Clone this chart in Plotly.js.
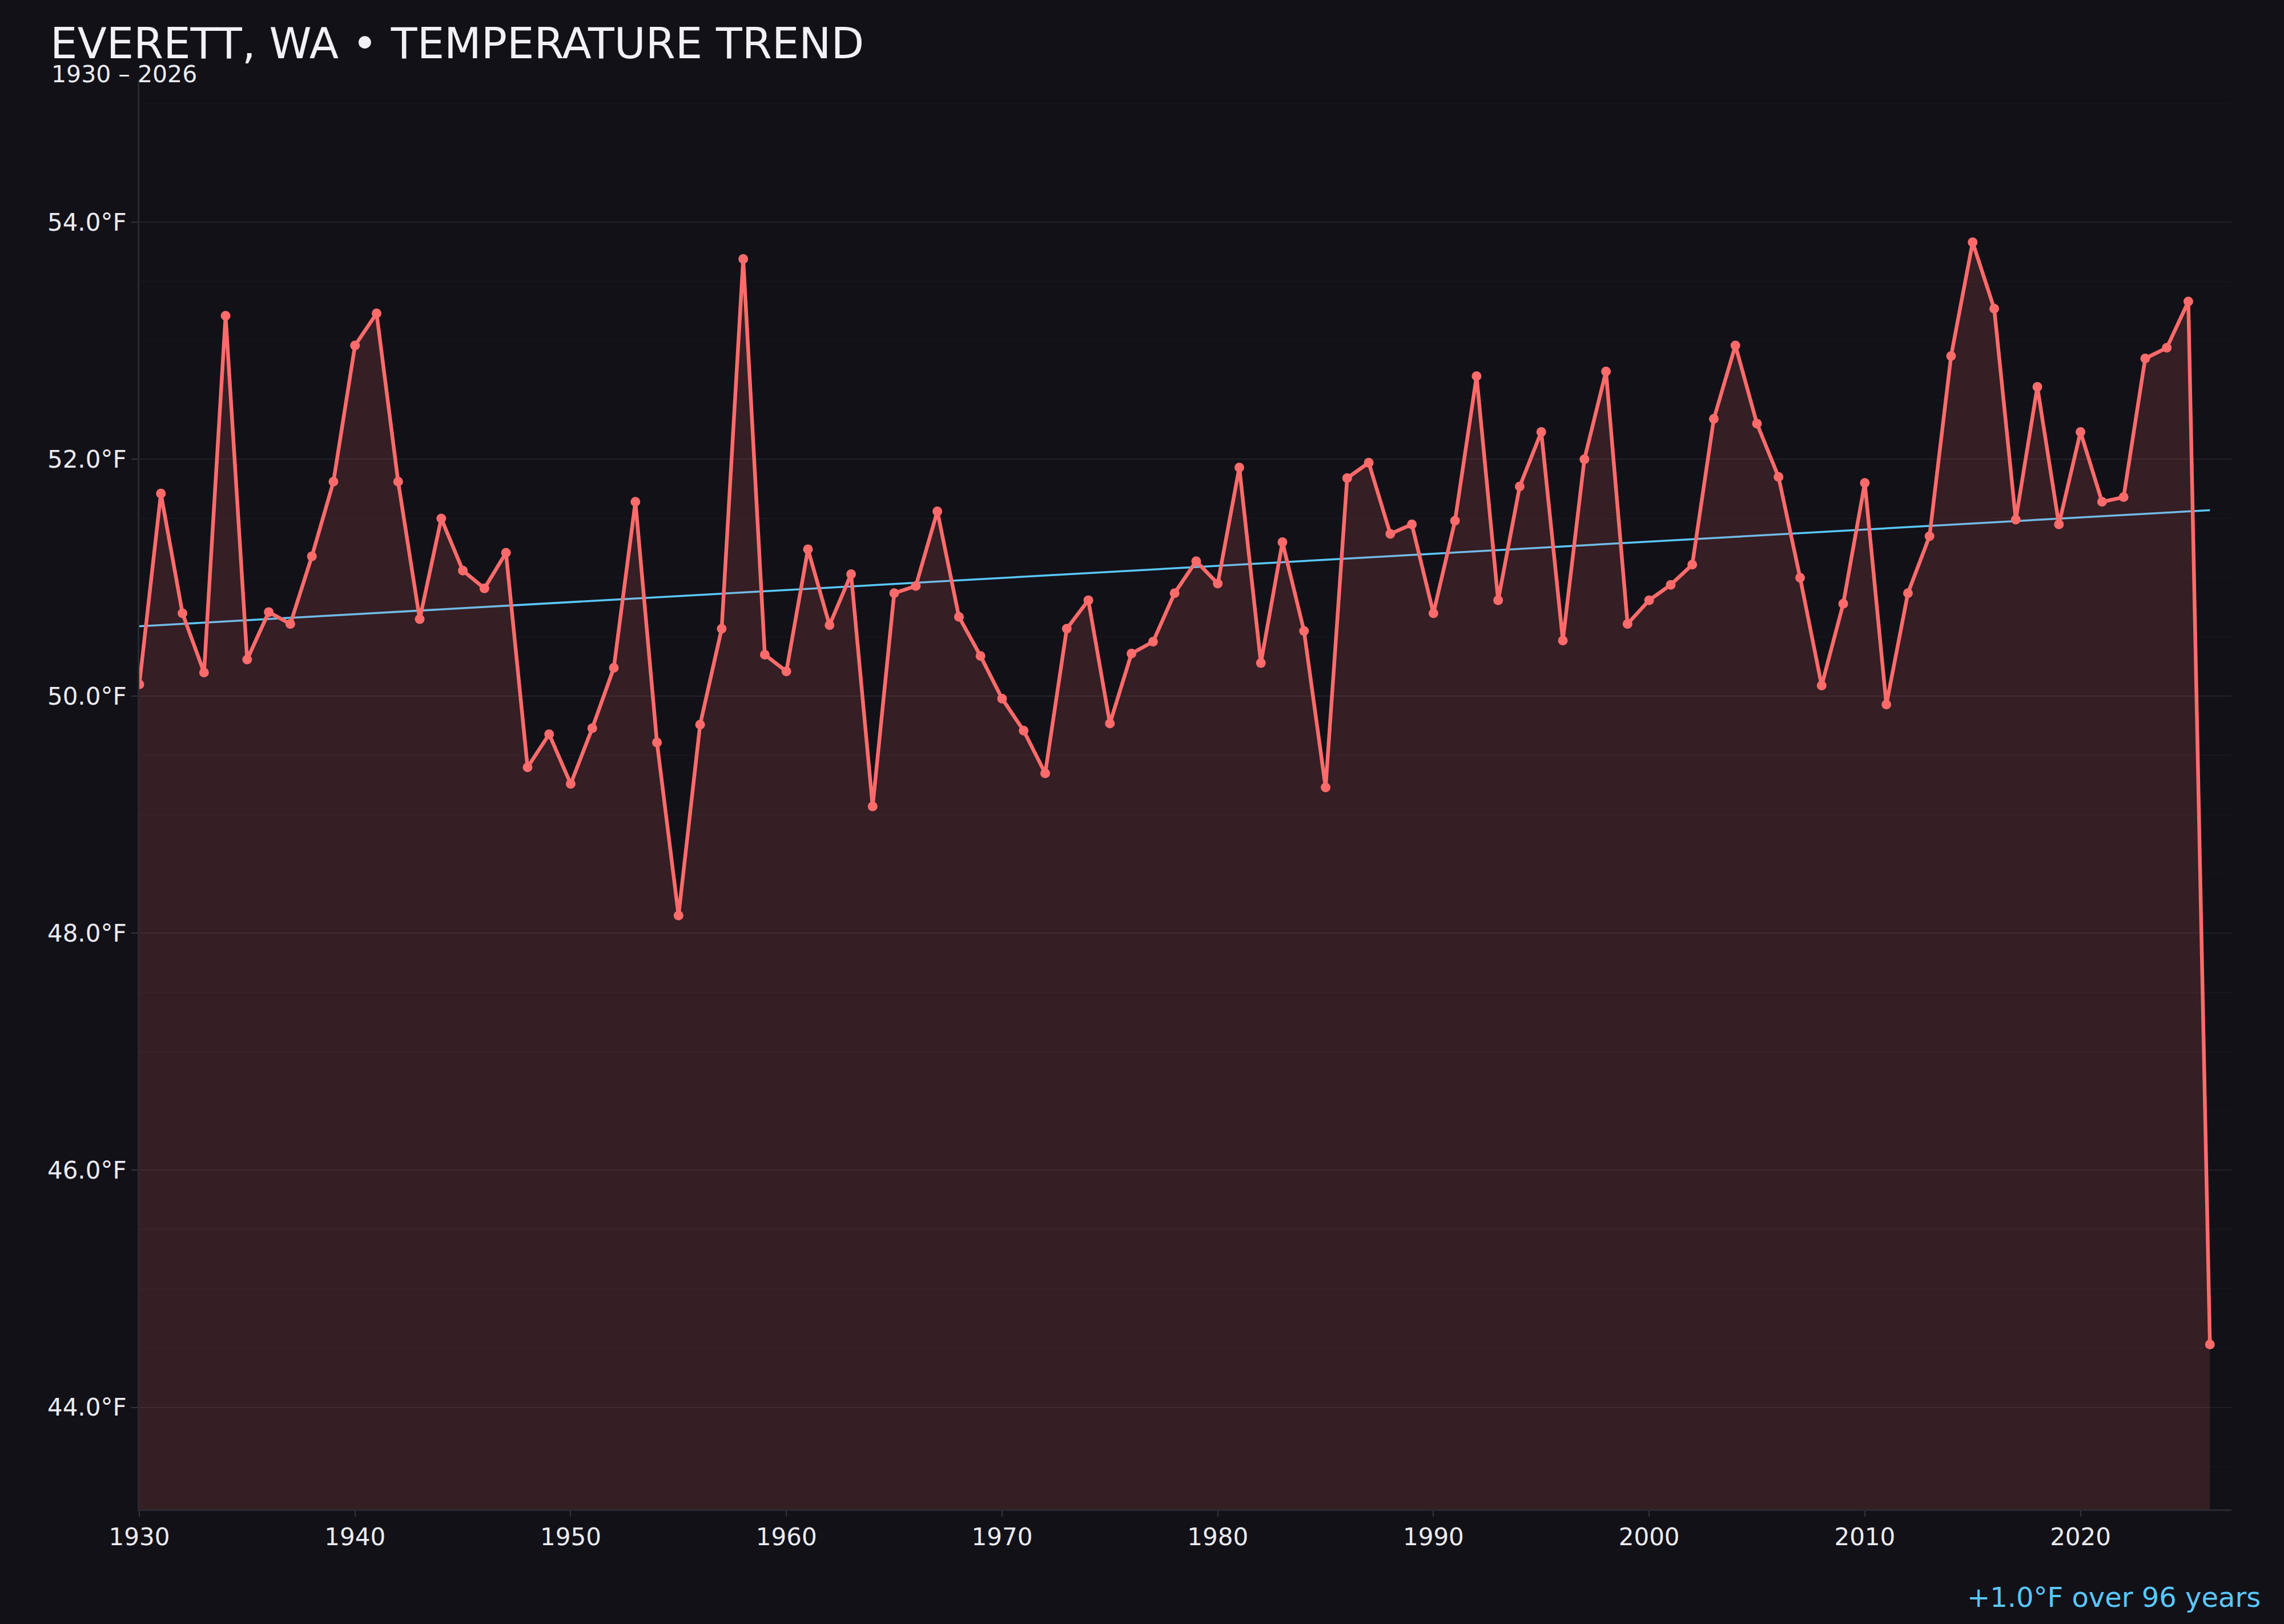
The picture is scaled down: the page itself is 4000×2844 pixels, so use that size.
<!DOCTYPE html>
<html>
<head>
<meta charset="utf-8">
<script src="https://cdn.plot.ly/plotly-3.0.1.min.js"></script>
<style>
  html, body { margin: 0; padding: 0; background: #121118; }
  #plot { width: 4000px; height: 2844px; }
</style>
</head>
<body>
<div id="plot"></div>
<script>
// annual mean temperature, Everett WA
const years = []
for (let y = 1930; y <= 2026; y++) years.push(y)

const temps = [
    50.10, 51.71, 50.70, 50.20, 53.21, 50.31, 50.71, 50.61, 51.18, 51.81,
    52.96, 53.23, 51.81, 50.65, 51.50, 51.06, 50.91, 51.21, 49.40, 49.68,
    49.26, 49.73, 50.24, 51.64, 49.61, 48.15, 49.76, 50.57, 53.69, 50.35,
    50.21, 51.24, 50.60, 51.03, 49.07, 50.87, 50.93, 51.56, 50.67, 50.34,
    49.98, 49.71, 49.35, 50.57, 50.81, 49.77, 50.36, 50.46, 50.87, 51.14,
    50.95, 51.93, 50.28, 51.30, 50.55, 49.23, 51.84, 51.97, 51.37, 51.45,
    50.70, 51.48, 52.70, 50.81, 51.77, 52.23, 50.47, 52.00, 52.74, 50.61,
    50.81, 50.94, 51.11, 52.34, 52.96, 52.30, 51.85, 51.00, 50.09, 50.78,
    51.80, 49.93, 50.87, 51.35, 52.87, 53.83, 53.27, 51.49, 52.61, 51.45,
    52.23, 51.64, 51.68, 52.85, 52.94, 53.33, 44.53
]

// linear trend end points
const trendYears = [1930, 2026]
const trendTemps = [50.59, 51.57]

const yTicks = [44, 46, 48, 50, 52, 54]
const yTickLabels = yTicks.map(function (v) { return v.toFixed(1) + '\u00b0F' })
const xTicks = [1930, 1940, 1950, 1960, 1970, 1980, 1990, 2000, 2010, 2020]

const titleText = 'EVERETT, WA \u2022 TEMPERATURE TREND'
const subtitleText = '1930 \u2013 2026'
const noteText = '+1.0\u00b0F over 96 years'

const bg = '#121118'
const red = '#ff6b6b'
const blue = '#5ac8fa'

const trend = {
    x: trendYears,
    y: trendTemps,
    mode: 'lines',
    type: 'scatter',
    line: { color: blue, width: 3.5 },
    hoverinfo: 'skip'
}

const series = {
    x: years,
    y: temps,
    mode: 'lines+markers',
    type: 'scatter',
    fill: 'tozeroy',
    fillcolor: 'rgba(255,107,107,0.15)',
    line: { color: red, width: 6.5 },
    marker: { color: red, size: 17 }
}

const layout = {
    width: 4000,
    height: 2844,
    paper_bgcolor: bg,
    plot_bgcolor: bg,
    showlegend: false,
    font: { family: 'DejaVu Sans', color: '#ecebf0', size: 42 },
    margin: { l: 244, r: 92, t: 140, b: 201 },
    title: {
        text: titleText,
        font: { size: 75, color: '#f2f1f5' },
        xref: 'container', x: 88 / 4000, xanchor: 'left',
        yref: 'container', y: 1 - 76 / 2844, yanchor: 'middle'
    },
    xaxis: {
        range: [1930, 2027],
        tickvals: xTicks,
        ticks: 'outside', ticklen: 10, tickwidth: 2, tickcolor: '#34333b',
        showgrid: false, zeroline: false,
        showline: true, linecolor: '#2a2931', linewidth: 3,
        tickfont: { size: 42 }
    },
    yaxis: {
        range: [43.14, 55.2],
        tickvals: yTicks,
        ticktext: yTickLabels,
        ticks: 'outside', ticklen: 11, tickwidth: 2, tickcolor: '#34333b',
        showgrid: true, gridcolor: 'rgba(255,255,255,0.055)', gridwidth: 2,
        minor: { dtick: 0.5, showgrid: true, gridcolor: 'rgba(255,255,255,0.022)', gridwidth: 1.5 },
        zeroline: false,
        showline: true, linecolor: '#2a2931', linewidth: 3,
        tickfont: { size: 42 }
    },
    annotations: [
        {
            text: subtitleText,
            xref: 'paper', x: (88 - 244) / 3664, xanchor: 'left',
            yref: 'paper', y: (2643.5 - 129) / 2504, yanchor: 'middle',
            showarrow: false,
            font: { size: 41, color: '#ecebf0' }
        },
        {
            text: noteText,
            xref: 'paper', x: (3961 - 244) / 3664, xanchor: 'right',
            yref: 'paper', y: (2643.5 - 2798) / 2504, yanchor: 'middle',
            showarrow: false,
            font: { size: 48, color: blue }
        }
    ]
}

Plotly.newPlot('plot', [trend, series], layout, { staticPlot: true })
</script>
</body>
</html>
